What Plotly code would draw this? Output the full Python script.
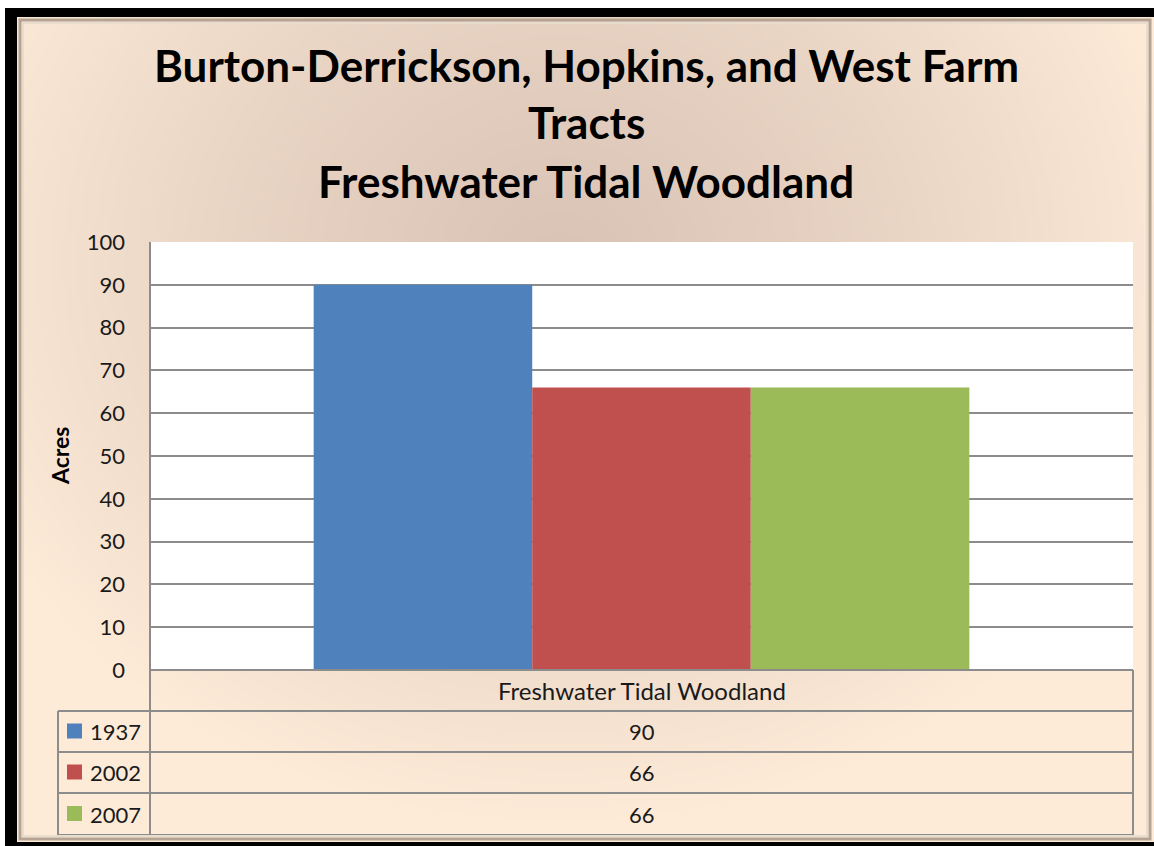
import base64, struct, zlib
import numpy as np
import plotly.graph_objects as go

# ---------------- data ----------------
categories = ["Freshwater Tidal Woodland"]
years = ["1937", "2002", "2007"]
values_1937 = [90]
values_2002 = [66]
values_2007 = [66]
colors = ["#4f81bd", "#c0504d", "#9bbb59"]
title_lines = ["Burton-Derrickson, Hopkins, and West Farm", "Tracts", "Freshwater Tidal Woodland"]
y_title = "Acres"

W, H = 1154, 846
L, R, T, B = 150, 1133, 242, 670   # plot area in pixels
PW, PH = R - L, B - T

def px(x):
    return (x - L) / PW

def py(y):
    return (B - y) / PH

# ---------------- background gradient image ----------------
def make_png(arr):
    h, w, _ = arr.shape
    raw = b"".join(b"\x00" + arr[i].tobytes() for i in range(h))
    def chunk(tag, data):
        c = struct.pack(">I", len(data)) + tag + data
        return c + struct.pack(">I", zlib.crc32(tag + data) & 0xffffffff)
    png = b"\x89PNG\r\n\x1a\n"
    png += chunk(b"IHDR", struct.pack(">IIBBBBB", w, h, 8, 2, 0, 0, 0))
    png += chunk(b"IDAT", zlib.compress(raw, 9))
    png += chunk(b"IEND", b"")
    return "data:image/png;base64," + base64.b64encode(png).decode()

gw, gh = 289, 207
xs = np.linspace(17, W, gw)
ys = np.linspace(17, 842, gh)
X, Y = np.meshgrid(xs, ys)
d = np.sqrt(((X - 560) / 640) ** 2 + ((Y - 260) / 560) ** 2)
t = np.clip(d, 0, 1) ** 1.2
dark = np.array([218, 196, 182], float)
light = np.array([253, 234, 215], float)
img = (dark[None, None, :] * (1 - t[..., None]) + light[None, None, :] * t[..., None]).astype(np.uint8)
bg_src = make_png(img)

# ---------------- figure ----------------
fig = go.Figure()
series = [values_1937, values_2002, values_2007]
for yr, vals, col in zip(years, series, colors):
    fig.add_trace(go.Bar(x=categories, y=vals, name=yr, marker=dict(color=col, line=dict(width=0)),
                         hoverinfo="y"))

FONT = "Lato"
shapes = []
annotations = []

grid_col = "#8c8c8c"
def hline(x0, x1, y, col=grid_col, w=2):
    shapes.append(dict(type="line", xref="paper", yref="paper", x0=px(x0), x1=px(x1), y0=py(y), y1=py(y),
                       line=dict(color=col, width=w), layer="above"))
def vline(x, y0, y1, col=grid_col, w=2):
    shapes.append(dict(type="line", xref="paper", yref="paper", x0=px(x), x1=px(x), y0=py(y0), y1=py(y1),
                       line=dict(color=col, width=w), layer="above"))
def rect(x0, y0, x1, y1, fill, layer="above", line=None):
    shapes.append(dict(type="rect", xref="paper", yref="paper", x0=px(x0), x1=px(x1), y0=py(y0), y1=py(y1),
                       fillcolor=fill, line=line or dict(width=0), layer=layer))

def text(x, y, s, size, color="#1a1a1a", xanchor="center", angle=0):
    annotations.append(dict(x=px(x), y=py(y), xref="paper", yref="paper", text=s, xanchor=xanchor,
                            yanchor="middle", textangle=angle, showarrow=False,
                            font=dict(family=FONT, size=size, color=color)))

# white plot area (above background image)
rect(L, T, R, B, "#ffffff", layer="below")

# table rows
row_tops = [670, 711, 752, 793, 835]
hline(L, R, 670)
for yy in row_tops[1:]:
    hline(58, R, yy)
vline(L, T, 835)
vline(R, 670, 835)
vline(58, 711, 835)

# header text
text((L + R) / 2, 690, categories[0], 24)
for i, (yr, vals, col) in enumerate(zip(years, series, colors)):
    yc = (row_tops[i + 1] + row_tops[i + 2]) / 2
    rect(67, yc - 8, 82, yc + 7, col)
    text(88, yc, yr, 22, xanchor="left")
    text((L + R) / 2, yc, str(vals[0]), 22)

# title lines
for txt, yc in zip(title_lines, [65, 122, 181]):
    text(586, yc, "<b>" + txt + "</b>", 44, color="#000000")

# y-axis title
text(60, 456, "<b>" + y_title + "</b>", 23, color="#000000", angle=-90)

# frame: black border and bevel
rect(5, 8, W, 17, "#000000")
rect(5, 8, 17, H, "#000000")
rect(5, 842, W, H, "#000000")
shapes.append(dict(type="rect", xref="paper", yref="paper", x0=px(20), x1=px(1150), y0=py(20), y1=py(839),
                   line=dict(color="#b5a494", width=3), fillcolor="rgba(0,0,0,0)", layer="above"))
shapes.append(dict(type="rect", xref="paper", yref="paper", x0=px(23), x1=px(1147), y0=py(23), y1=py(836),
                   line=dict(color="#e8dccd", width=2), fillcolor="rgba(0,0,0,0)", layer="above"))

fig.update_layout(
    width=W, height=H,
    margin=dict(l=L, r=W - R, t=T, b=H - B, pad=0),
    paper_bgcolor="#ffffff",
    plot_bgcolor="#ffffff",
    showlegend=False,
    barmode="group",
    bargap=0.333,
    bargroupgap=0,
    images=[dict(source=bg_src, xref="paper", yref="paper", x=px(17), y=py(17), sizex=(W - 17) / PW,
                 sizey=(842 - 17) / PH, sizing="stretch", xanchor="left", yanchor="top", layer="below")],
    xaxis=dict(showticklabels=False, showgrid=False, zeroline=False, showline=False, ticks=""),
    yaxis=dict(range=[0, 100], dtick=10, showgrid=True, gridcolor=grid_col, gridwidth=2, zeroline=False,
               showline=False, ticks="", ticklabelstandoff=24,
               tickfont=dict(family=FONT, size=22, color="#1a1a1a")),
    shapes=shapes,
    annotations=annotations,
)

fig.write_html("out.html")
